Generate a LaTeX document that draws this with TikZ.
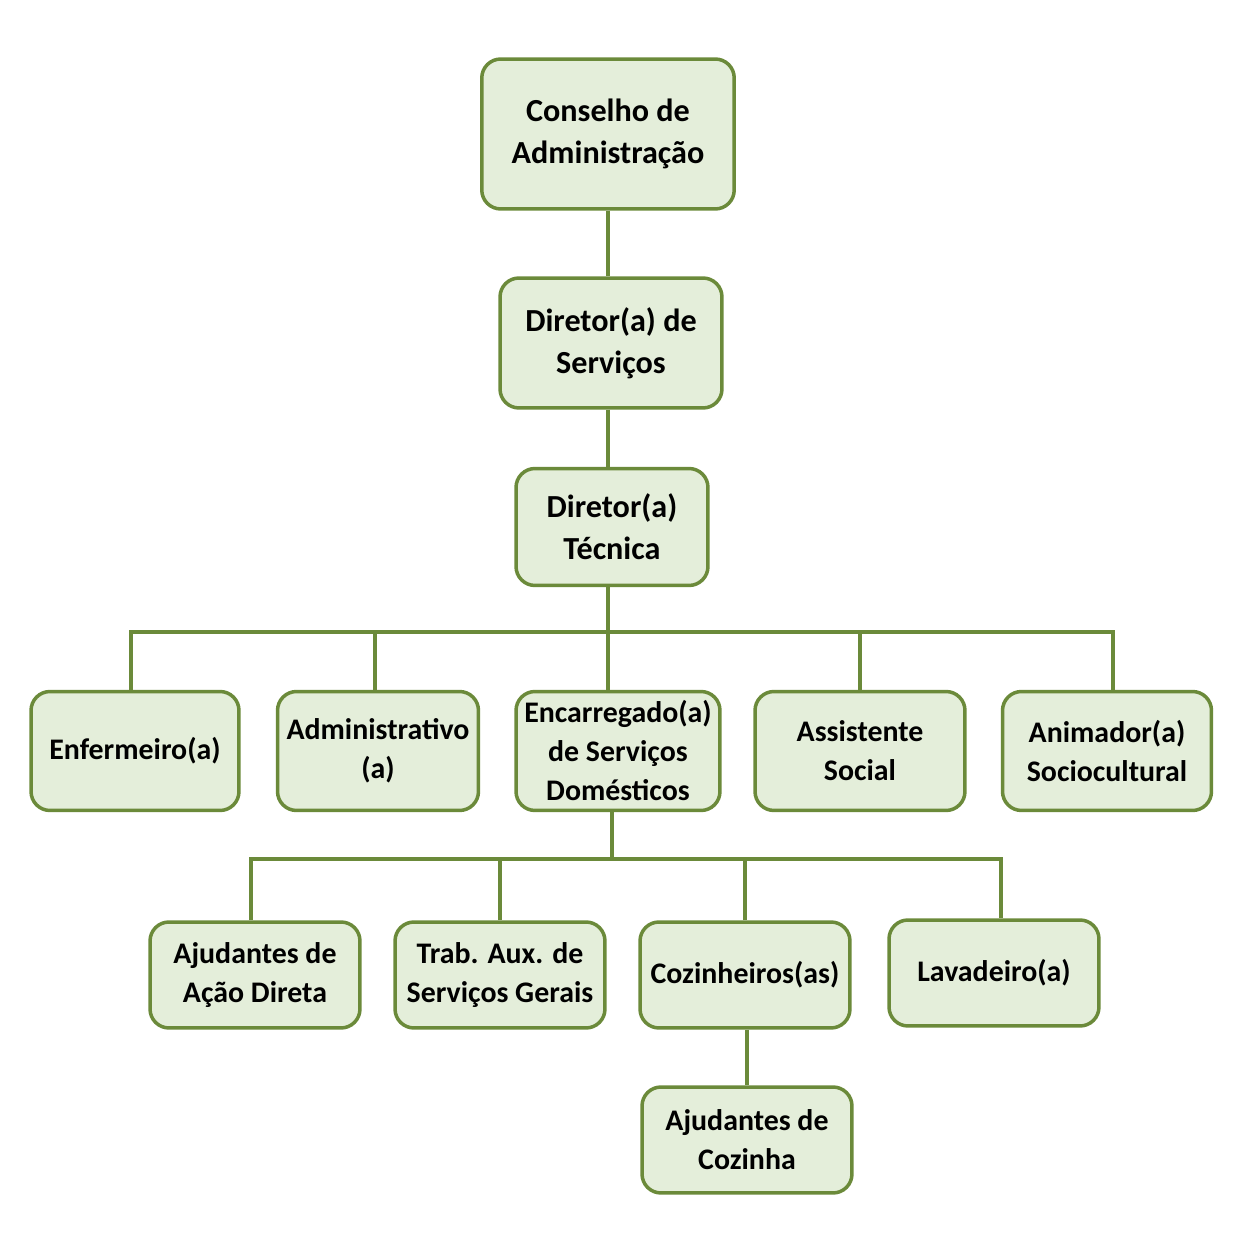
\documentclass[tikz,border=0pt]{standalone}
\usepackage{fontspec}
\setmainfont{Carlito}
\usetikzlibrary{positioning}
\definecolor{olive}{HTML}{6B8A3A}
\definecolor{leaf}{HTML}{E4EEDA}
\tikzset{
  cargo/.style={rounded corners=0.38cm,fill=leaf,draw=olive,line width=0.07cm,align=center,
    font=\fontsize{17}{22.2}\selectfont\bfseries,inner sep=2pt,minimum width=#1},
  chefe/.style={cargo=#1,font=\fontsize{18.3}{23.9}\selectfont\bfseries},
  link/.style={olive,line width=0.08cm},
}
\begin{document}
\begin{tikzpicture}[x=0.02cm,y=-0.02cm]
\useasboundingbox (0,0) rectangle (1252,1246);
\node[chefe=5.05cm,minimum height=3.0cm] (cons) at (608,134) {Conselho de\\Administração};
\node[chefe=4.44cm,minimum height=2.6cm] (serv) at (611,343) {Diretor(a) de\\Serviços};
\node[chefe=3.84cm,minimum height=2.34cm] (tec) at (612,527) {Diretor(a)\\Técnica};
% primeira linha
\node[cargo=4.16cm,minimum height=2.38cm] (enf) at (135,751) {Enfermeiro(a)};
\node[cargo=4.02cm,minimum height=2.38cm] (adm) at (378,751) {Administrativo\\(a)};
\node[cargo=4.08cm,minimum height=2.38cm] (enc) at (618,751) {Encarregado(a)\\de Serviços\\Domésticos};
\node[cargo=4.2cm,minimum height=2.38cm] (ass) at (860,751) {Assistente\\Social};
\node[cargo=4.18cm,minimum height=2.38cm] (ani) at (1107,751) {Animador(a)\\Sociocultural};
% segunda linha
\node[cargo=4.2cm,minimum height=2.12cm] (aad) at (255,975) {Ajudantes de\\Ação Direta};
\node[cargo=4.2cm,minimum height=2.12cm] (tra) at (500,975) {Trab. Aux. de\\Serviços Gerais};
\node[cargo=4.2cm,minimum height=2.12cm] (coz) at (745,975) {Cozinheiros(as)};
\node[cargo=4.2cm,minimum height=2.12cm] (lav) at (994,973) {Lavadeiro(a)};
\node[cargo=4.2cm,minimum height=2.12cm] (ajc) at (747,1140) {Ajudantes de\\Cozinha};
\coordinate (bus) at (608,632);
\coordinate (bus2) at (612,859);
\begin{scope}[on background layer/.try]
\draw[link] (cons.south -| bus) -- (serv.north -| bus);
\draw[link] (serv.south -| bus) -- (tec.north -| bus);
\draw[link] (tec.south -| bus) -- (enc.north -| bus);
\draw[link] ([xshift=-0.08cm]enf.north) |- (bus) -| ([xshift=0.12cm]ani.north);
\draw[link] ([xshift=-0.06cm]adm.north) -- ([xshift=-0.06cm]adm.north |- bus);
\draw[link] (ass.north) -- (ass.north |- bus);
\draw[link] (enc.south -| bus2) -- (bus2);
\draw[link] ([xshift=-0.08cm]aad.north) |- (bus2) -| ([xshift=0.14cm]lav.north);
\draw[link] (tra.north) -- (tra.north |- bus2);
\draw[link] (coz.north) -- (coz.north |- bus2);
\draw[link] ([xshift=0.04cm]coz.south) -- ([xshift=0.04cm]coz.south |- ajc.north);
\end{scope}
\end{tikzpicture}
\end{document}
